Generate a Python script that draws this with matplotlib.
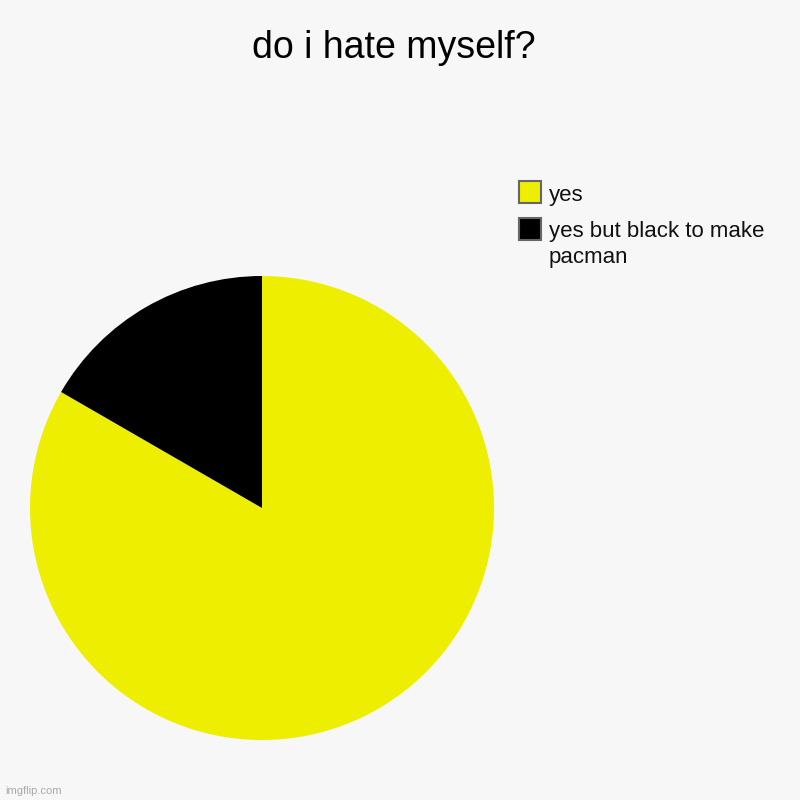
import matplotlib.pyplot as plt
from matplotlib.patches import Rectangle

# données
labels = ['yes', 'yes but black to make\npacman']
values = [5, 1]
colors = ['#eeee00', '#000000']

plt.rcParams['font.family'] = ['Liberation Sans', 'DejaVu Sans']
bg = '#f7f7f7'
W = 800.0

def fx(px):
    return px / W

def fy(py):
    return 1 - py / W

fig = plt.figure(figsize=(8, 8), dpi=100, facecolor=bg)
ax = fig.add_axes([30/800, 60/800, 464/800, 464/800])
ax.set_facecolor(bg)
ax.pie(values, colors=colors, startangle=90, counterclock=False, radius=1,
       wedgeprops=dict(linewidth=0))
ax.set_xlim(-1, 1)
ax.set_ylim(-1, 1)
ax.set_aspect('equal')
ax.axis('off')

# titre
fig.text(fx(394), fy(58.5), 'do i hate myself?', ha='center', va='baseline',
         fontsize=27, color='#000000')

# légende faite à la main
box_top = [181, 218]
for lab, c, top in zip(labels, colors, box_top):
    fig.patches.append(Rectangle((fx(519), fy(top + 22)), 22/W, 22/W,
                                 facecolor=c, edgecolor='#666666', linewidth=1.5,
                                 transform=fig.transFigure, figure=fig))
    for i, line in enumerate(lab.split('\n')):
        fig.text(fx(549), fy(top + 19.5 + 25*i), line, ha='left', va='baseline',
                 fontsize=16, color='#111111')

fig.text(5/800, fy(791), 'imgflip.com', ha='left', va='center',
         fontsize=8, color='#aaaaaa')

fig.savefig('out.png', dpi=100, facecolor=bg)
